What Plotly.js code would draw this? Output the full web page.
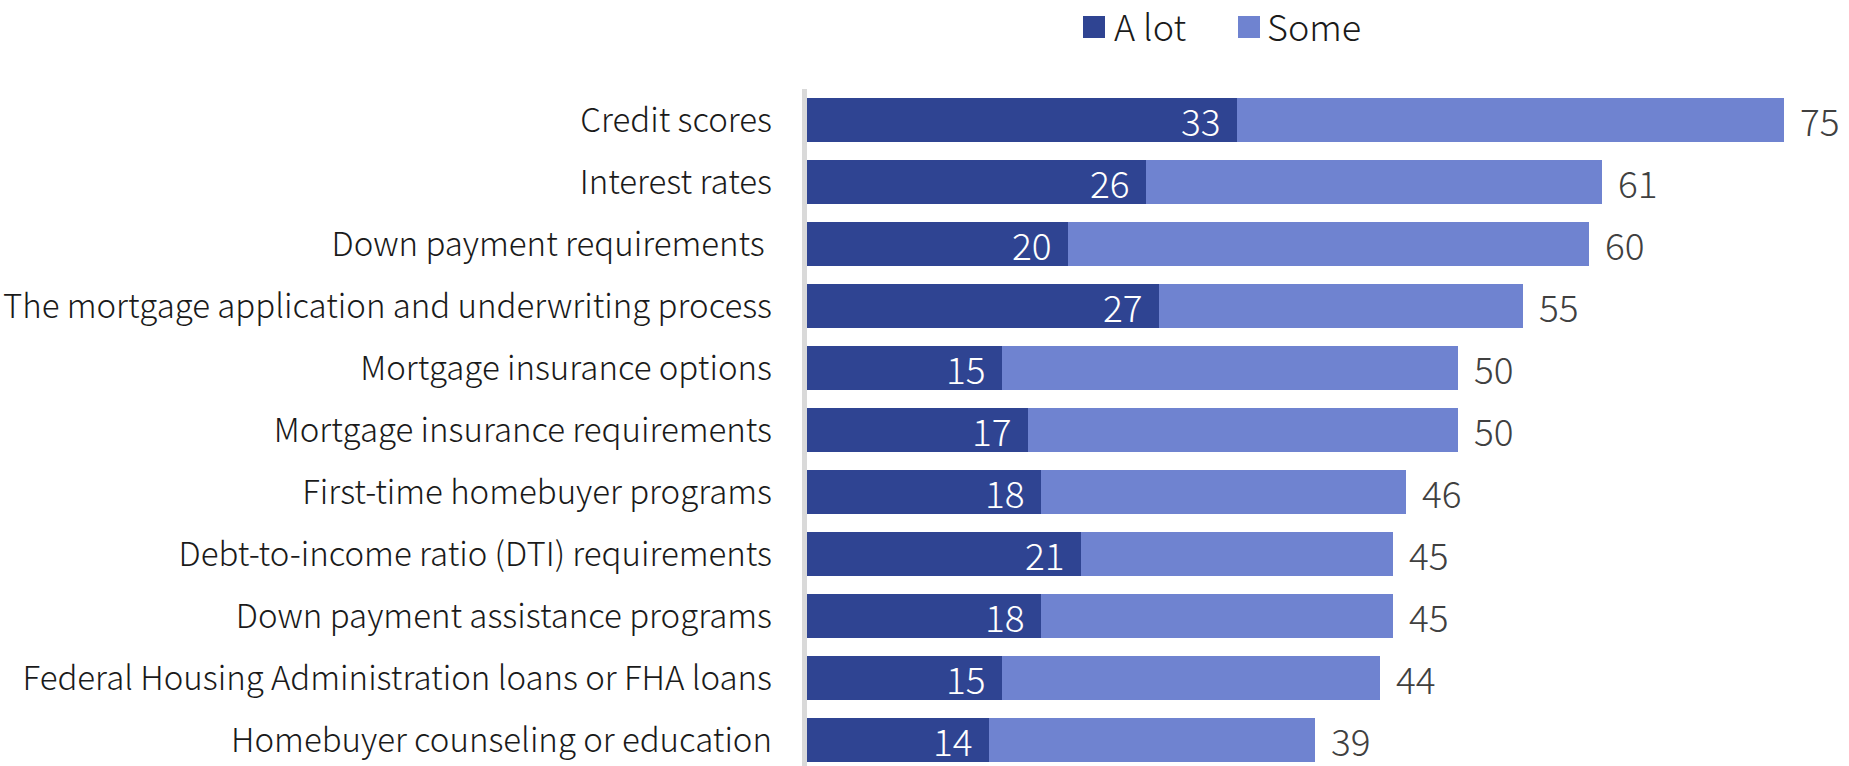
<!DOCTYPE html>
<html>
<head>
<meta charset="utf-8">
<script src="https://cdn.plot.ly/plotly-3.0.1.min.js"></script>
<style>html,body{margin:0;padding:0;background:#fff;}#chart{width:1849px;height:766px;}</style>
</head>
<body>
<div id="chart"></div>
<script>
// Data (top to bottom as in the reference)
var categories = [
  "Credit scores",
  "Interest rates",
  "Down payment requirements\u00a0",
  "The mortgage application and underwriting process",
  "Mortgage insurance options",
  "Mortgage insurance requirements",
  "First-time homebuyer programs",
  "Debt-to-income ratio (DTI) requirements",
  "Down payment assistance programs",
  "Federal Housing Administration loans or FHA loans",
  "Homebuyer counseling or education"
];
var aLot = [33, 26, 20, 27, 15, 17, 18, 21, 18, 15, 14];
var totals = [75, 61, 60, 55, 50, 50, 46, 45, 45, 44, 39];
var some = totals.map(function (t, i) { return t - aLot[i]; });
var seriesNames = ["A lot", "Some"];

var FONT = "'Noto Sans CJK JP', 'Noto Sans', sans-serif";
var WEIGHT = 300;
var DARK = "#2F4492";
var LIGHT = "#6F83D0";

var traces = [
  {type: "bar", orientation: "h", name: seriesNames[0], y: categories, x: aLot,
   marker: {color: DARK}, showlegend: false, hoverinfo: "x+name"},
  {type: "bar", orientation: "h", name: seriesNames[1], y: categories, x: some,
   marker: {color: LIGHT}, showlegend: false, hoverinfo: "x+name"}
];

var annotations = [];
categories.forEach(function (c, i) {
  annotations.push({x: aLot[i], y: c, xref: "x", yref: "y", text: String(aLot[i]),
    showarrow: false, xanchor: "right", xshift: -14,
    font: {family: FONT, size: 37, weight: WEIGHT, color: "#ffffff"}});
  annotations.push({x: totals[i], y: c, xref: "x", yref: "y", text: String(totals[i]),
    showarrow: false, xanchor: "left", xshift: 14,
    font: {family: FONT, size: 37, weight: WEIGHT, color: "#404040"}});
});

// Manual legend (pixel positions converted to paper coords)
var W = 1849, H = 766, ML = 807, MR = 0, MT = 89, MB = 0;
var PW = W - ML - MR, PH = H - MT - MB;
function px(x) { return (x - ML) / PW; }
function py(y) { return (H - MB - y) / PH; }
var legendItems = [
  {name: seriesNames[0], color: DARK, sx: 1083, tx: 1113},
  {name: seriesNames[1], color: LIGHT, sx: 1238, tx: 1266}
];
var shapes = [];
legendItems.forEach(function (it) {
  shapes.push({type: "rect", xref: "paper", yref: "paper",
    x0: px(it.sx), x1: px(it.sx + 22), y0: py(38), y1: py(16),
    fillcolor: it.color, line: {width: 0}});
  annotations.push({xref: "paper", yref: "paper", x: px(it.tx), y: py(25),
    xanchor: "left", yanchor: "middle", text: it.name, showarrow: false,
    borderpad: 0,
    font: {family: FONT, size: 36, weight: WEIGHT, color: "#1a1a1a"}});
});
// Vertical axis line
shapes.push({type: "line", xref: "paper", yref: "paper", x0: px(804.5), x1: px(804.5),
  y0: 0, y1: 1, line: {color: "#D9D9D9", width: 5}});

var layout = {
  width: W, height: H,
  margin: {l: ML, r: MR, t: MT, b: MB, pad: 0},
  paper_bgcolor: "#ffffff", plot_bgcolor: "#ffffff",
  barmode: "stack", bargap: 0.29,
  showlegend: false,
  font: {family: FONT, color: "#1a1a1a"},
  xaxis: {range: [0, 80], visible: false, showgrid: false, zeroline: false, fixedrange: true},
  yaxis: {type: "category", categoryorder: "array", categoryarray: categories.slice().reverse(),
    range: [-0.42, 10.5], showgrid: false, zeroline: false, showline: false, ticks: "",
    ticklabelstandoff: 34,
    tickfont: {family: FONT, size: 33, weight: WEIGHT, color: "#1a1a1a"}, fixedrange: true},
  annotations: annotations,
  shapes: shapes
};

Plotly.newPlot("chart", traces, layout, {displayModeBar: false, staticPlot: true});
</script>
</body>
</html>
